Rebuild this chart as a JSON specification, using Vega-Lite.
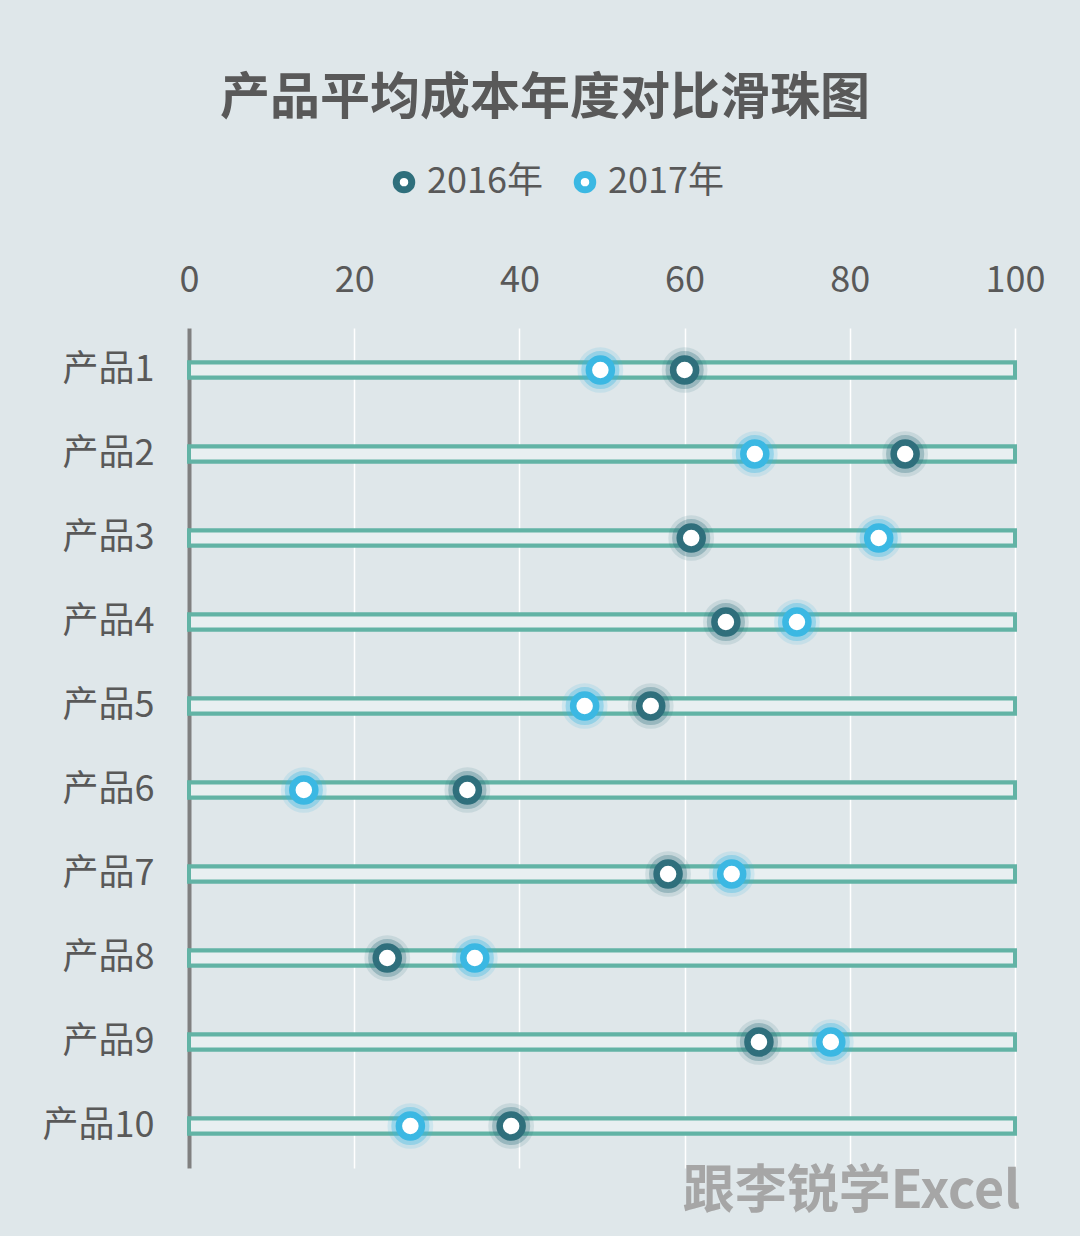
{
  "$schema": "https://vega.github.io/schema/vega-lite/v6.json",
  "width": 826,
  "height": 840,
  "autosize": {"type": "none"},
  "padding": {"left": 189, "top": 328, "right": 65, "bottom": 68},
  "background": "#dfe7ea",
  "config": {"view": {"stroke": null}, "font": "Noto Sans CJK SC"},
  "title": {
    "text": "产品平均成本年度对比滑珠图",
    "fontSize": 50,
    "fontWeight": "bold",
    "color": "#595959",
    "anchor": "middle",
    "dx": -57,
    "offset": 40
  },
  "data": {
    "values": [
      {"product": "产品1", "2016年": 60, "2017年": 49.8},
      {"product": "产品2", "2016年": 86.7, "2017年": 68.5},
      {"product": "产品3", "2016年": 60.8, "2017年": 83.5},
      {"product": "产品4", "2016年": 65, "2017年": 73.6},
      {"product": "产品5", "2016年": 55.9, "2017年": 47.9},
      {"product": "产品6", "2016年": 33.7, "2017年": 13.9},
      {"product": "产品7", "2016年": 58, "2017年": 65.7},
      {"product": "产品8", "2016年": 24, "2017年": 34.6},
      {"product": "产品9", "2016年": 69, "2017年": 77.7},
      {"product": "产品10", "2016年": 39, "2017年": 26.8}
    ]
  },
  "transform": [{"fold": ["2016年", "2017年"], "as": ["series", "value"]}],
  "encoding": {
    "y": {
      "field": "product",
      "type": "nominal",
      "sort": null,
      "scale": {"paddingInner": 0, "paddingOuter": 0},
      "axis": {
        "title": null,
        "labelFontSize": 36,
        "labelColor": "#595959",
        "labelPadding": 35,
        "ticks": false,
        "domain": true,
        "domainColor": "#808080",
        "domainWidth": 4,
        "grid": false
      }
    }
  },
  "layer": [
    {
      "mark": {"type": "bar", "height": 15, "fill": "#e8eff1", "stroke": "#62b3a5", "strokeWidth": 4},
      "encoding": {
        "x": {
          "datum": 0,
          "type": "quantitative",
          "scale": {"domain": [0, 100], "nice": false},
          "axis": {
            "orient": "top",
            "values": [0, 20, 40, 60, 80, 100],
            "labelFontSize": 36,
            "labelColor": "#595959",
            "labelPadding": 29,
            "labelFlush": false,
            "domain": false,
            "ticks": false,
            "grid": true,
            "gridColor": "#ffffff",
            "gridWidth": 1.5,
            "title": null
          }
        },
        "x2": {"datum": 100}
      }
    },
    {
      "transform": [{"filter": "datum.series == '2016年'"}],
      "mark": {"type": "circle", "size": 1350, "filled": false, "stroke": "#2f6f7c", "strokeWidth": 9, "opacity": 0.13},
      "encoding": {"x": {"field": "value", "type": "quantitative", "axis": null}}
    },
    {
      "transform": [{"filter": "datum.series == '2017年'"}],
      "mark": {"type": "circle", "size": 1350, "filled": false, "stroke": "#3bb8e3", "strokeWidth": 9, "opacity": 0.15},
      "encoding": {"x": {"field": "value", "type": "quantitative", "axis": null}}
    },
    {
      "transform": [{"filter": "datum.series == '2016年'"}],
      "mark": {"type": "circle", "size": 850, "filled": false, "stroke": "#2f6f7c", "strokeWidth": 9, "opacity": 0.3},
      "encoding": {"x": {"field": "value", "type": "quantitative", "axis": null}}
    },
    {
      "transform": [{"filter": "datum.series == '2017年'"}],
      "mark": {"type": "circle", "size": 850, "filled": false, "stroke": "#3bb8e3", "strokeWidth": 9, "opacity": 0.35},
      "encoding": {
        "x": {
          "field": "value",
          "type": "quantitative",
          "axis": {
            "orient": "bottom",
            "labels": false,
            "ticks": false,
            "domain": false,
            "grid": false,
            "title": "跟李锐学Excel",
            "titleFontSize": 52,
            "titleFontWeight": "bold",
            "titleColor": "#a6a6a6",
            "titleAlign": "right",
            "titleAnchor": "end",
            "titleX": 831,
            "titlePadding": -2
          }
        }
      }
    },
    {
      "mark": {"type": "circle", "size": 530, "fill": "#ffffff", "strokeWidth": 6.5, "opacity": 1},
      "encoding": {
        "x": {"field": "value", "type": "quantitative", "axis": null},
        "stroke": {
          "field": "series",
          "type": "nominal",
          "scale": {"domain": ["2016年", "2017年"], "range": ["#2f6f7c", "#3bb8e3"]},
          "legend": {
            "title": null,
            "orient": "none",
            "direction": "horizontal",
            "legendX": 197,
            "legendY": -164,
            "symbolType": "circle",
            "symbolFillColor": "#ffffff",
            "symbolStrokeWidth": 7,
            "symbolSize": 240,
            "symbolOpacity": 1,
            "labelFontSize": 36,
            "labelColor": "#595959",
            "labelOffset": 5,
            "columnPadding": 20
          }
        }
      }
    }
  ]
}
